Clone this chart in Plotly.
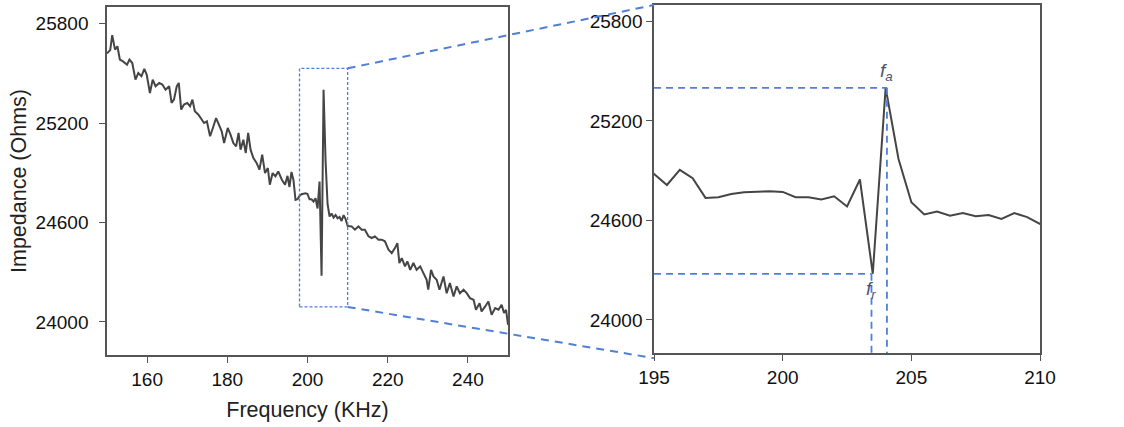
import plotly.graph_objects as go

# ---------------- data ----------------
freq_low = [150.0, 150.8, 151.3, 152.0, 152.6, 153.2, 154.0, 155.0, 155.6, 156.3,
            157.1, 157.8, 158.6, 159.3, 159.9, 160.7, 161.4, 162.1, 163.0, 163.8,
            164.6, 165.5, 166.1, 166.7, 167.4, 167.9, 168.5, 169.2, 170.0, 170.7,
            171.3, 171.9, 172.8, 173.4, 174.2, 174.9, 175.7, 176.4, 177.2, 177.9,
            178.6, 179.2, 180.1, 180.8, 181.5, 182.2, 182.8, 183.3, 184.0, 184.6,
            185.2, 185.8, 186.5, 187.3, 188.0, 188.7, 189.4, 190.1, 190.6, 191.3,
            192.0, 192.7, 193.6, 194.4]
imp_low = [25620, 25640, 25730, 25643, 25663, 25583, 25572, 25552, 25583, 25562,
           25462, 25502, 25482, 25526, 25492, 25381, 25462, 25422, 25442, 25432,
           25401, 25422, 25321, 25341, 25422, 25442, 25281, 25311, 25321, 25301,
           25341, 25271, 25250, 25230, 25200, 25210, 25120, 25170, 25230, 25190,
           25150, 25079, 25170, 25130, 25079, 25059, 25140, 25039, 25099, 25019,
           25140, 25039, 24989, 24959, 24918, 25009, 24898, 24928, 24828, 24898,
           24878, 24908, 24858, 24828]

freq_mid = [195.0, 195.5, 196.0, 196.5, 197.0, 197.5, 198.0, 198.5, 199.0, 199.5,
            200.0, 200.5, 201.0, 201.5, 202.0, 202.5, 203.0, 203.5, 204.0, 204.5,
            205.0, 205.5, 206.0, 206.5, 207.0, 207.5, 208.0, 208.5, 209.0, 209.5,
            210.0]
imp_mid = [24881, 24814, 24905, 24855, 24736, 24740, 24760, 24770, 24774, 24776,
           24772, 24740, 24740, 24726, 24746, 24684, 24847, 24278, 25400, 24971,
           24710, 24636, 24654, 24629, 24645, 24625, 24633, 24609, 24644, 24620,
           24579]

freq_high = [211.0, 211.8, 212.7, 213.5, 214.3, 215.2, 216.0, 216.8, 217.7, 218.5,
             219.3, 220.2, 221.0, 221.8, 222.4, 222.9, 223.5, 224.3, 224.9, 225.6,
             226.4, 227.2, 228.1, 228.9, 229.7, 230.1, 230.8, 231.4, 232.2, 232.9,
             233.9, 234.7, 235.5, 236.4, 237.2, 238.0, 238.9, 239.7, 240.5, 241.4,
             242.0, 242.9, 243.4, 244.3, 245.1, 245.9, 246.8, 247.6, 248.4, 249.0,
             249.5, 250.0]
imp_high = [24576, 24556, 24576, 24556, 24556, 24516, 24506, 24516, 24496, 24496,
            24486, 24435, 24415, 24445, 24475, 24355, 24385, 24335, 24365, 24314,
            24355, 24314, 24335, 24294, 24254, 24194, 24314, 24274, 24254, 24194,
            24274, 24173, 24234, 24153, 24214, 24173, 24194, 24173, 24143, 24133,
            24073, 24113, 24063, 24093, 24123, 24043, 24083, 24073, 24103, 24053,
            24073, 23982]

freq = freq_low + freq_mid + freq_high
imp = imp_low + imp_mid + imp_high

# resonance / anti-resonance markers
f_r, z_r = 203.45, 24278
f_a, z_a = 204.05, 25400

# zoom window shown in the left panel
box_x = [198, 210]
box_y = [24090, 25530]

y_ticks = [24000, 24600, 25200, 25800]
y_tick_text = ["24000", "24600", "25200", "25800"]
x_ticks_left = [160, 180, 200, 220, 240]
x_ticks_right = [195, 200, 205, 210]

# ---------------- layout constants ----------------
Y_RANGE = [23800, 25900]
L_XDOM = [0.0952, 0.4520]
L_YDOM = [0.1686, 0.9836]
R_XDOM = [0.5819, 0.9253]
R_YDOM = [0.1733, 0.9883]
LINE_C = "#454545"
BLUE = "#4F7FD6"
AX_C = "#555555"
FONT = "Liberation Sans, Arial, sans-serif"

fig = go.Figure()
fig.add_trace(go.Scatter(x=freq, y=imp, mode="lines", xaxis="x", yaxis="y",
                         line=dict(color=LINE_C, width=2), showlegend=False,
                         hoverinfo="skip"))
fig.add_trace(go.Scatter(x=freq, y=imp, mode="lines", xaxis="x2", yaxis="y2",
                         line=dict(color=LINE_C, width=2), showlegend=False,
                         hoverinfo="skip"))

axis_common = dict(showgrid=False, zeroline=False, showline=True, mirror=True,
                   linecolor=AX_C, linewidth=1.5, ticks="outside", ticklen=6,
                   tickcolor=AX_C, tickwidth=1.2, automargin=False,
                   tickfont=dict(family=FONT, size=19, color="#111111"))
title_font = dict(family=FONT, size=21.5, color="#222222")

fig.update_layout(
    width=1124, height=427,
    margin=dict(l=0, r=0, t=0, b=0),
    paper_bgcolor="white", plot_bgcolor="white",
    font=dict(family=FONT),
    xaxis=dict(domain=L_XDOM, anchor="y", range=[150, 250], tickvals=x_ticks_left,
               title=dict(text="Frequency (KHz)", font=title_font, standoff=13),
               **axis_common),
    yaxis=dict(domain=L_YDOM, anchor="x", range=Y_RANGE, tickvals=y_ticks,
               ticktext=y_tick_text, ticklabelstandoff=7,
               title=dict(text="Impedance (Ohms)", font=title_font, standoff=3),
               **axis_common),
    xaxis2=dict(domain=R_XDOM, anchor="y2", range=[195, 210], tickvals=x_ticks_right,
                **axis_common),
    yaxis2=dict(domain=R_YDOM, anchor="x2", range=Y_RANGE, tickvals=y_ticks,
                ticktext=y_tick_text, **axis_common),
)


def paper_pt(x, y, xr, xdom, ydom):
    px = xdom[0] + (x - xr[0]) / (xr[1] - xr[0]) * (xdom[1] - xdom[0])
    py = ydom[0] + (y - Y_RANGE[0]) / (Y_RANGE[1] - Y_RANGE[0]) * (ydom[1] - ydom[0])
    return px, py


shapes = []
# dotted zoom box in left panel
shapes.append(dict(type="rect", xref="x", yref="y", x0=box_x[0], x1=box_x[1],
                   y0=box_y[0], y1=box_y[1],
                   line=dict(color=BLUE, width=1.3, dash="3px,2px"), layer="above"))
# connector lines to the right panel
tx, ty = paper_pt(box_x[1], box_y[1], [150, 250], L_XDOM, L_YDOM)
bx, by = paper_pt(box_x[1], box_y[0], [150, 250], L_XDOM, L_YDOM)
shapes.append(dict(type="line", xref="paper", yref="paper", x0=tx, y0=ty,
                   x1=R_XDOM[0], y1=R_YDOM[1],
                   line=dict(color=BLUE, width=2, dash="8px,6px"), layer="above"))
shapes.append(dict(type="line", xref="paper", yref="paper", x0=bx, y0=by,
                   x1=R_XDOM[0], y1=R_YDOM[0] - 0.012,
                   line=dict(color=BLUE, width=2, dash="8px,6px"), layer="above"))
# marker lines in right panel
mk = dict(color=BLUE, width=1.8, dash="7px,5px")
shapes.append(dict(type="line", xref="x2", yref="y2", x0=195, x1=f_a, y0=z_a, y1=z_a, line=mk))
shapes.append(dict(type="line", xref="x2", yref="y2", x0=f_a, x1=f_a, y0=z_a, y1=Y_RANGE[0], line=mk))
shapes.append(dict(type="line", xref="x2", yref="y2", x0=195, x1=f_r, y0=z_r, y1=z_r, line=mk))
shapes.append(dict(type="line", xref="x2", yref="y2", x0=f_r, x1=f_r, y0=z_r, y1=Y_RANGE[0], line=mk))
fig.update_layout(shapes=shapes)

fig.add_annotation(x=f_a, y=z_a, xref="x2", yref="y2", text="<i>f<sub>a</sub></i>",
                   showarrow=False, yanchor="bottom", yshift=2,
                   font=dict(family=FONT, size=19, color="#4a5670"))
fig.add_annotation(x=f_r, y=z_r, xref="x2", yref="y2", text="<i>f<sub>r</sub></i>",
                   showarrow=False, yanchor="top", yshift=-2,
                   font=dict(family=FONT, size=19, color="#4a5670"))

fig.write_html("out.html")
